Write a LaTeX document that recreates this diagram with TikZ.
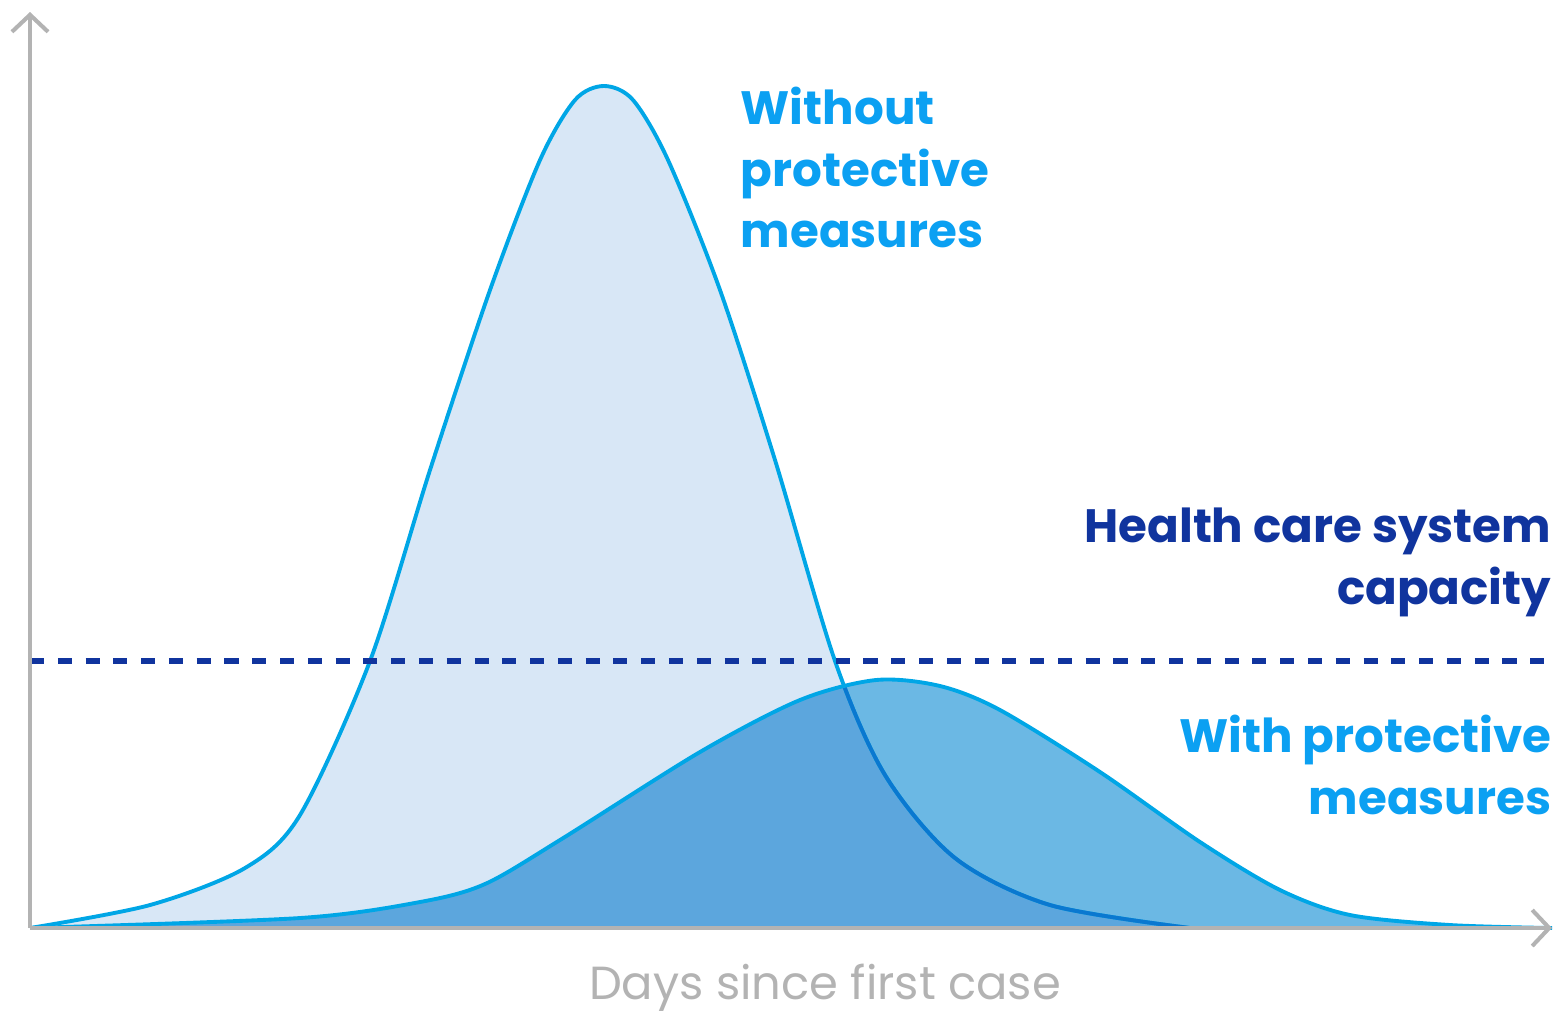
\documentclass[tikz,border=0pt]{standalone}
\usepackage{fontspec}
\setmainfont{Poppins}
\usetikzlibrary{arrows.meta}
\definecolor{axisgray}{HTML}{B3B3B3}
\definecolor{lightfill}{HTML}{D8E7F6}
\definecolor{midfill}{HTML}{6BB8E4}
\definecolor{overfill}{HTML}{5CA6DD}
\definecolor{cyanline}{HTML}{00A6E6}
\definecolor{deepline}{HTML}{0A78D0}
\definecolor{capblue}{HTML}{10349E}
\definecolor{labelblue}{HTML}{0BA0F2}
\tikzset{
  curveA/.style={insert path={plot[smooth,tension=0.5] coordinates{(30,928) (150,905) (245,868) (300,815) (370,661) (430,470) (490,290) (540,160) (575,100) (604,86) (633,100) (668,160) (720,290) (775,460) (835,661) (885,775) (955,858) (1050,905) (1190,928)}}},
  curveB/.style={insert path={plot[smooth,tension=0.5] coordinates{(30,928) (300,918) (420,902) (485,884) (560,840) (700,752) (800,700) (876,680) (940,686) (1000,710) (1100,772) (1200,842) (1280,890) (1350,915) (1450,925) (1552,928)}}},
  axis/.style={draw=axisgray,line width=1.15pt,-{Straight Barb[length=0.17cm,width=0.36cm,line width=1.15pt]}},
  stroke/.style={line width=1.1pt},
  biglabel/.style={inner sep=0pt,font=\fontsize{13.3}{17.6}\selectfont\bfseries},
}
\begin{document}
\begin{tikzpicture}[x=0.01cm,y=-0.01cm]
\useasboundingbox (0,0) rectangle (1555,1011);
% fills
\fill[lightfill,curveA] -- cycle;
\fill[midfill,curveB] -- cycle;
\begin{scope}
  \clip[curveA] -- cycle;
  \fill[overfill,curveB] -- cycle;
\end{scope}
% strokes
\draw[cyanline,stroke,curveA];
\begin{scope}
  \clip[curveB] -- cycle;
  \draw[deepline,stroke,curveA];
\end{scope}
\draw[cyanline,stroke,curveB];
% capacity line
\coordinate (capL) at (30,661);
\coordinate (capR) at (1556,661);
\draw[capblue,line width=1.45pt,dash pattern=on 4pt off 3.9pt] (capL) -- (capR);
% axes
\coordinate (origin) at (30,928);
\coordinate (ytop) at (30,12);
\coordinate (xend) at (1552,928);
\draw[axis] (origin) -- (ytop);
\draw[axis] (origin) -- (xend);
% labels
\node[biglabel,labelblue,anchor=north west,align=left] (without) at (740,86) {Without\\protective\\measures};
\node[biglabel,capblue,anchor=north east,align=right] (capacity) at (1552,507) {Health care system\\capacity};
\node[biglabel,labelblue,anchor=north east,align=right] (with) at (1552,714) {With protective\\measures};
\node[axisgray,inner sep=0pt,anchor=base,font=\fontsize{13.2}{17}\selectfont] (days) at (825,999) {Days since first case};
\end{tikzpicture}
\end{document}
